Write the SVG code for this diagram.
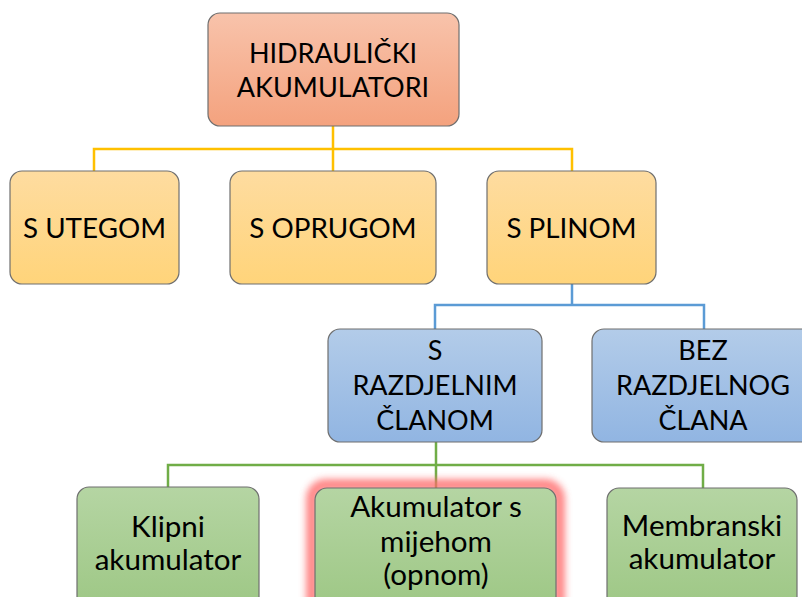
<svg xmlns="http://www.w3.org/2000/svg" width="802" height="597" viewBox="0 0 802 597">
<defs>
<linearGradient id="gRed" x1="0" y1="0" x2="0" y2="1"><stop offset="0" stop-color="#f8c3ab"/><stop offset="1" stop-color="#f4a27e"/></linearGradient>
<linearGradient id="gYel" x1="0" y1="0" x2="0" y2="1"><stop offset="0" stop-color="#fedca0"/><stop offset="1" stop-color="#ffd47a"/></linearGradient>
<linearGradient id="gBlu" x1="0" y1="0" x2="0" y2="1"><stop offset="0" stop-color="#b3cce9"/><stop offset="1" stop-color="#91b5e2"/></linearGradient>
<linearGradient id="gGrn" x1="0" y1="0" x2="0" y2="1"><stop offset="0" stop-color="#b5d5a3"/><stop offset="1" stop-color="#9dc784"/></linearGradient>
<filter id="glow" x="-20%" y="-30%" width="140%" height="160%"><feGaussianBlur stdDeviation="3.5"/></filter>
</defs>
<style>
.box{stroke:#6f6f6f;stroke-width:1.2}
.t{font-family:Lato,"Liberation Sans",sans-serif;font-size:27px;fill:#000;text-anchor:middle}
.y{font-size:27.8px}
.g{font-size:29.6px}
.c{fill:none;stroke-width:2.5}
</style>
<rect width="802" height="597" fill="#ffffff"/>
<g id="connectors">
<path class="c" stroke="#ffc000" d="M333 126V149M94 171V149H572V171M333 149V171"/>
<path class="c" stroke="#5b9bd5" d="M572 284V305M435 329V305H704V329"/>
<path class="c" stroke="#70ad47" d="M436 442V465M168 487V465H703V488M436 465V488"/>
</g>
<g id="n-hidraulicki">
<rect class="box" x="208" y="13" width="251" height="113" rx="12" fill="url(#gRed)"/>
<text class="t" x="333" y="63">HIDRAULIČKI</text>
<text class="t" x="333" y="97">AKUMULATORI</text>
</g>
<g id="n-utegom">
<rect class="box" x="10" y="171" width="169" height="113" rx="12" fill="url(#gYel)"/>
<text class="t y" x="94.5" y="238">S UTEGOM</text>
</g>
<g id="n-oprugom">
<rect class="box" x="230" y="171" width="206" height="113" rx="12" fill="url(#gYel)"/>
<text class="t y" x="333" y="238">S OPRUGOM</text>
</g>
<g id="n-plinom">
<rect class="box" x="487" y="171" width="169" height="113" rx="12" fill="url(#gYel)"/>
<text class="t y" x="571.5" y="238">S PLINOM</text>
</g>
<g id="n-razdjelnim">
<rect class="box" x="328" y="329" width="214" height="113" rx="12" fill="url(#gBlu)"/>
<text class="t" x="435" y="360">S</text>
<text class="t" x="435" y="395">RAZDJELNIM</text>
<text class="t" x="435" y="430">ČLANOM</text>
</g>
<g id="n-bez">
<rect class="box" x="592" y="329" width="224" height="113" rx="12" fill="url(#gBlu)"/>
<text class="t" x="703" y="360">BEZ</text>
<text class="t" x="703" y="395">RAZDJELNOG</text>
<text class="t" x="703" y="430">ČLANA</text>
</g>
<g id="n-klipni">
<rect class="box" x="77" y="487" width="182" height="125" rx="12" fill="url(#gGrn)"/>
<text class="t g" x="168" y="537">Klipni</text>
<text class="t g" x="168" y="570">akumulator</text>
</g>
<g id="n-mijeh">
<rect x="312" y="485" width="247" height="131" rx="14" fill="none" stroke="#ff6a6a" stroke-width="12" opacity="0.8" filter="url(#glow)"/>
<rect class="box" x="315" y="488" width="241" height="125" rx="12" fill="url(#gGrn)"/>
<text class="t g" x="436" y="517">Akumulator s</text>
<text class="t g" x="436" y="552">mijehom</text>
<text class="t g" x="436" y="585">(opnom)</text>
</g>
<g id="n-membranski">
<rect class="box" x="607" y="488" width="190" height="125" rx="12" fill="url(#gGrn)"/>
<text class="t g" x="702" y="536">Membranski</text>
<text class="t g" x="702" y="569">akumulator</text>
</g>
</svg>
